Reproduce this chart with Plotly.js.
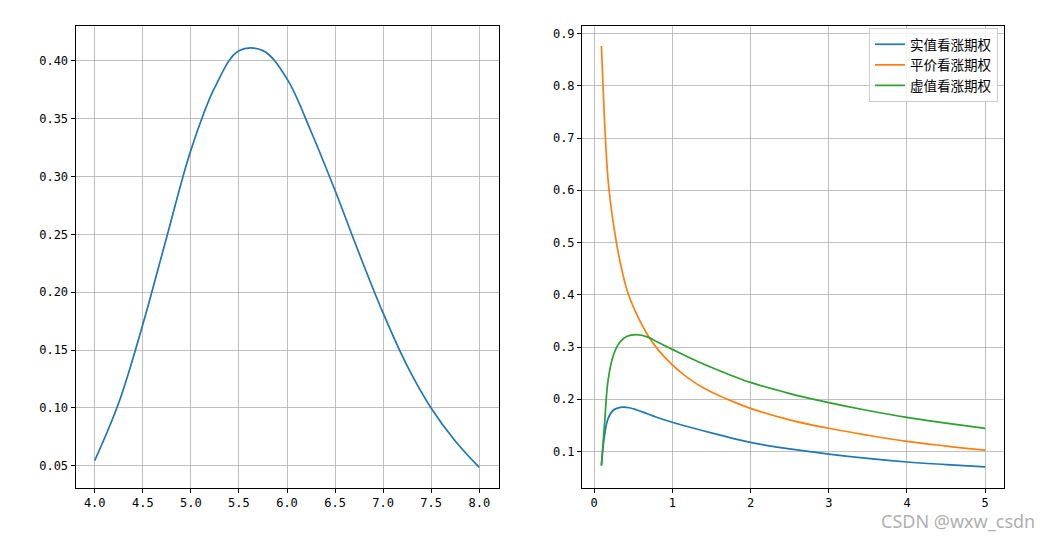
<!DOCTYPE html>
<html>
<head>
<meta charset="utf-8">
<script src="https://cdn.plot.ly/plotly-3.0.1.min.js"></script>
<style>html,body{margin:0;padding:0;background:#fff;}#chart{width:1054px;height:540px;}</style>
</head>
<body>
<div id="chart"></div>
<script>
// Left panel: gamma vs underlying price
const leftX = [4.0, 4.25, 4.5, 4.75, 5.0, 5.25, 5.5, 5.75, 6.0, 6.25, 6.5, 6.75, 7.0, 7.25, 7.5, 7.75, 8.0];
const leftY = [0.0544, 0.1044, 0.1721, 0.248, 0.3227, 0.3773, 0.4089, 0.4089, 0.3845, 0.339, 0.2879, 0.2336, 0.1819, 0.1363, 0.0997, 0.0714, 0.0485];

// Right panel: gamma vs time to maturity
const seriesNames = ["实值看涨期权", "平价看涨期权", "虚值看涨期权"];
const itmX = [0.094, 0.115, 0.137, 0.179, 0.244, 0.31, 0.372, 0.45, 0.55, 0.671, 0.8, 1.0, 1.226, 1.611, 2.0, 2.5, 3.0, 3.5, 4.0, 4.5, 5.0];
const itmY = [0.0732, 0.108, 0.134, 0.163, 0.179, 0.1835, 0.185, 0.1838, 0.1795, 0.1728, 0.1657, 0.156, 0.1465, 0.1315, 0.1175, 0.1050, 0.0952, 0.0868, 0.080, 0.075, 0.0705];
const atmX = [0.094, 0.115, 0.145, 0.192, 0.286, 0.357, 0.434, 0.562, 0.689, 0.817, 1.0, 1.2, 1.413, 1.668, 2.0, 2.5, 3.0, 3.5, 4.0, 4.5, 5.0];
const atmY = [0.876, 0.8, 0.7, 0.6, 0.5, 0.4465, 0.403, 0.3573, 0.322, 0.295, 0.266, 0.241, 0.2205, 0.2025, 0.1826, 0.1605, 0.1445, 0.1312, 0.1195, 0.1105, 0.1025];
const otmX = [0.094, 0.115, 0.137, 0.179, 0.244, 0.329, 0.415, 0.543, 0.689, 0.817, 1.0, 1.2, 1.413, 1.668, 2.0, 2.49, 3.0, 3.5, 4.0, 4.5, 5.0];
const otmY = [0.0732, 0.115, 0.159, 0.236, 0.283, 0.309, 0.320, 0.3236, 0.319, 0.309, 0.2955, 0.281, 0.2665, 0.2508, 0.2323, 0.2114, 0.1937, 0.1785, 0.1652, 0.1544, 0.1443];

const leftXTicks = [4.0, 4.5, 5.0, 5.5, 6.0, 6.5, 7.0, 7.5, 8.0];
const leftYTicks = [0.05, 0.10, 0.15, 0.20, 0.25, 0.30, 0.35, 0.40];
const rightXTicks = [0, 1, 2, 3, 4, 5];
const rightYTicks = [0.1, 0.2, 0.3, 0.4, 0.5, 0.6, 0.7, 0.8, 0.9];

const colors = ["#1f77b4", "#ff7f0e", "#2ca02c"];
const lw = 1.7;
const lineStyle = (c, s) => ({color: c, width: lw, shape: "spline", smoothing: s});

const traces = [
  {x: leftX, y: leftY, xaxis: "x", yaxis: "y", mode: "lines", showlegend: false, line: lineStyle(colors[0], 1.0)},
  {x: itmX, y: itmY, xaxis: "x2", yaxis: "y2", mode: "lines", name: seriesNames[0], line: lineStyle(colors[0], 1.1)},
  {x: atmX, y: atmY, xaxis: "x2", yaxis: "y2", mode: "lines", name: seriesNames[1], line: lineStyle(colors[1], 1.2)},
  {x: otmX, y: otmY, xaxis: "x2", yaxis: "y2", mode: "lines", name: seriesNames[2], line: lineStyle(colors[2], 1.1)}
];

const tickFont = {family: "DejaVu Sans Mono, monospace", size: 12, color: "#000"};
function ax(extra) {
  return Object.assign({
    showgrid: true, gridcolor: "#b0b0b0", gridwidth: 0.8,
    zeroline: false, showline: true, linecolor: "#000", linewidth: 1, mirror: true,
    ticks: "outside", ticklen: 4, tickwidth: 1, tickcolor: "#000",
    tickfont: tickFont, tickmode: "array", fixedrange: true
  }, extra);
}

const layout = {
  width: 1054, height: 540,
  margin: {l: 0, r: 0, t: 0, b: 0},
  paper_bgcolor: "#fff", plot_bgcolor: "#fff",
  showlegend: true,
  xaxis: ax({domain: [75.5/1054, 498.5/1054], range: [3.8, 8.2], tickvals: leftXTicks,
             ticktext: leftXTicks.map(v => v.toFixed(1)), anchor: "y"}),
  yaxis: ax({domain: [52/540, 514/540], range: [0.0307, 0.4302], tickvals: leftYTicks,
             ticktext: leftYTicks.map(v => v.toFixed(2)), anchor: "x"}),
  xaxis2: ax({domain: [582/1054, 1004/1054], range: [-0.154, 5.24], tickvals: rightXTicks,
              ticktext: rightXTicks.map(v => String(v)), anchor: "y2"}),
  yaxis2: ax({domain: [52/540, 514/540], range: [0.0302, 0.9144], tickvals: rightYTicks,
              ticktext: rightYTicks.map(v => v.toFixed(1)), anchor: "x2"}),
  legend: {x: 998/1054, y: (540-28)/540, xanchor: "right", yanchor: "top",
           bgcolor: "rgba(255,255,255,0.8)", bordercolor: "#cccccc", borderwidth: 1,
           font: {family: "Noto Sans CJK SC, sans-serif", size: 13.5, color: "#000"},
           tracegroupgap: 0, itemwidth: 30},
  annotations: [{
    text: "CSDN @wxw_csdn", xref: "paper", yref: "paper",
    x: 958/1054, y: (540-521)/540, xanchor: "center", yanchor: "middle",
    showarrow: false, font: {family: "Noto Sans, sans-serif", size: 18, color: "rgba(160,160,160,0.85)"}
  }]
};

Plotly.newPlot("chart", traces, layout, {displayModeBar: false, staticPlot: true});
</script>
</body>
</html>
